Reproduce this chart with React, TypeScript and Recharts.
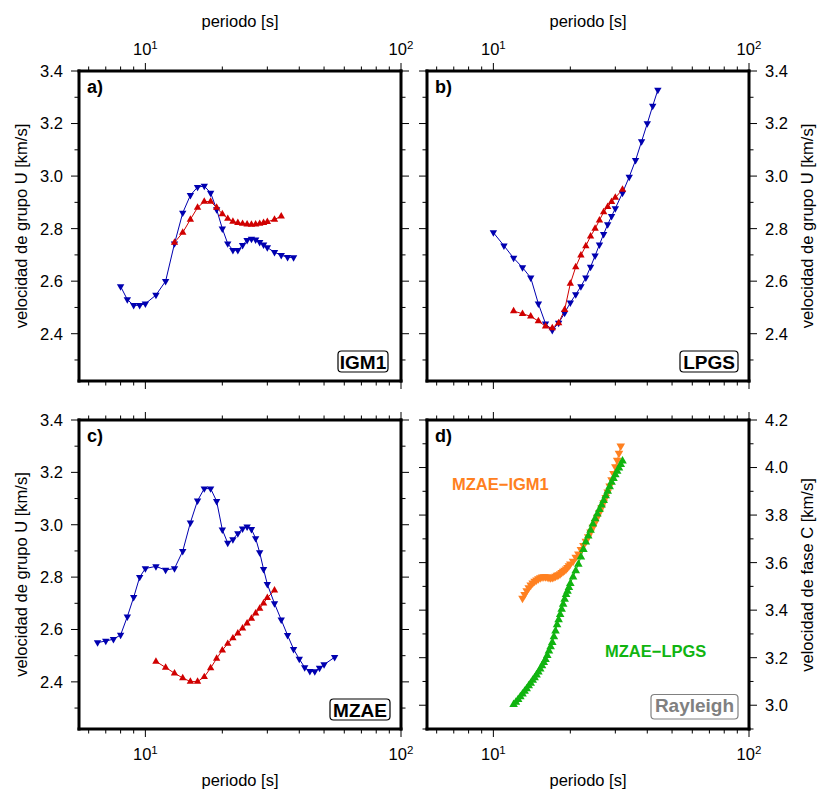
import React from "react";
import { LineChart, Line, XAxis, YAxis } from "recharts";

const W = 817;
const H = 792;
const FONT = '"Liberation Sans", Arial, Helvetica, sans-serif';

const BLUE = "#0000b0";
const RED = "#d00000";
const ORANGE = "#ff8020";
const GREEN = "#10b410";

// group velocity, station IGM1
const igm1BluePeriod = [8, 8.5, 9, 9.5, 10, 11, 12, 13, 14, 15, 16, 17, 18, 19, 20, 21, 22, 23, 24, 25, 26, 27, 28, 29, 30, 32, 34, 36, 38];
const igm1BlueU = [2.58, 2.53, 2.508, 2.508, 2.514, 2.547, 2.6, 2.743, 2.86, 2.927, 2.958, 2.962, 2.936, 2.873, 2.8, 2.743, 2.718, 2.718, 2.737, 2.756, 2.761, 2.758, 2.748, 2.739, 2.728, 2.71, 2.699, 2.691, 2.69];
const igm1RedPeriod = [13, 14, 15, 16, 17, 18, 19, 20, 21, 22, 23, 24, 25, 26, 27, 28, 29, 30, 32, 34];
const igm1RedU = [2.747, 2.785, 2.835, 2.88, 2.903, 2.903, 2.88, 2.856, 2.838, 2.827, 2.822, 2.819, 2.817, 2.816, 2.817, 2.819, 2.822, 2.826, 2.835, 2.847];

// group velocity, station LPGS
const lpgsBluePeriod = [10, 11, 12, 13, 14, 15, 16, 17, 18, 19, 20, 21, 22, 23, 24, 25, 26, 27, 28, 29, 30, 32, 34, 36, 38, 40, 42, 44];
const lpgsBlueU = [2.785, 2.735, 2.688, 2.652, 2.613, 2.514, 2.438, 2.413, 2.441, 2.479, 2.518, 2.549, 2.58, 2.613, 2.654, 2.697, 2.739, 2.779, 2.816, 2.847, 2.877, 2.936, 2.997, 3.06, 3.132, 3.2, 3.267, 3.328];
const lpgsRedPeriod = [12, 13, 14, 15, 16, 17, 18, 19, 20, 21, 22, 23, 24, 25, 26, 27, 28, 29, 30, 32];
const lpgsRedU = [2.486, 2.476, 2.466, 2.448, 2.428, 2.422, 2.441, 2.491, 2.591, 2.654, 2.699, 2.734, 2.771, 2.8, 2.832, 2.863, 2.883, 2.902, 2.918, 2.949];

// group velocity, station MZAE
const mzaeBluePeriod = [6.5, 7, 7.5, 8, 8.5, 9, 9.5, 10, 11, 12, 13, 14, 15, 16, 17, 18, 19, 20, 21, 22, 23, 24, 25, 26, 27, 28, 29, 30, 32, 34, 36, 38, 40, 42, 44, 46, 48, 50, 55];
const mzaeBlueU = [2.55, 2.556, 2.563, 2.579, 2.649, 2.723, 2.8, 2.833, 2.841, 2.827, 2.833, 2.899, 3.008, 3.092, 3.138, 3.138, 3.09, 2.981, 2.93, 2.944, 2.967, 2.985, 2.992, 2.983, 2.948, 2.894, 2.83, 2.773, 2.699, 2.637, 2.578, 2.525, 2.487, 2.455, 2.441, 2.44, 2.453, 2.466, 2.494];
const mzaeRedPeriod = [11, 12, 13, 14, 15, 16, 17, 18, 19, 20, 21, 22, 23, 24, 25, 26, 27, 28, 29, 30, 32];
const mzaeRedU = [2.478, 2.455, 2.433, 2.415, 2.401, 2.401, 2.419, 2.453, 2.489, 2.521, 2.546, 2.567, 2.586, 2.605, 2.624, 2.642, 2.662, 2.68, 2.7, 2.721, 2.75];

// phase velocity between station pairs (Rayleigh)
const mzaeIgm1Period = [
  13, 13.25, 13.5, 13.75, 14, 14.25, 14.5, 14.75, 15, 15.25, 15.5, 15.75, 16, 16.25, 16.5, 16.75,
  17, 17.25, 17.5, 17.75, 18, 18.25, 18.5, 18.75, 19, 19.25, 19.5, 19.75,
  20, 20.5, 21, 21.5, 22, 22.5, 23, 23.5, 24, 24.5, 25, 25.5, 26, 26.5, 27, 27.5, 28, 28.5, 29, 29.5, 30, 30.5, 31, 31.5,
];
const mzaeIgm1C = [
  3.45, 3.466, 3.481, 3.494, 3.505, 3.514, 3.521, 3.527, 3.532, 3.536, 3.539, 3.54, 3.54, 3.539, 3.537, 3.536,
  3.537, 3.539, 3.542, 3.546, 3.549, 3.553, 3.558, 3.563, 3.568, 3.573, 3.579, 3.587,
  3.594, 3.605, 3.622, 3.636, 3.655, 3.672, 3.69, 3.708, 3.728, 3.748, 3.768, 3.79, 3.81, 3.83, 3.852, 3.874, 3.897, 3.922, 3.948, 3.975, 4.003, 4.03, 4.06, 4.09,
];
const mzaeLpgsPeriod = [
  12, 12.25, 12.5, 12.75, 13, 13.25, 13.5, 13.75, 14, 14.25, 14.5, 14.75, 15, 15.25, 15.5, 15.75,
  16, 16.25, 16.5, 16.75, 17, 17.25, 17.5, 17.75, 18, 18.25, 18.5, 18.75, 19, 19.25, 19.5, 19.75,
  20, 20.5, 21, 21.5, 22, 22.5, 23, 23.5, 24, 24.5, 25, 25.5, 26, 26.5, 27, 27.5, 28, 28.5, 29, 29.5, 30, 30.5, 31, 31.5, 32,
];
const mzaeLpgsC = [
  3.003, 3.013, 3.024, 3.036, 3.048, 3.059, 3.07, 3.082, 3.093, 3.105, 3.116, 3.128, 3.14, 3.153, 3.166, 3.18,
  3.193, 3.21, 3.228, 3.246, 3.264, 3.288, 3.313, 3.339, 3.36, 3.382, 3.404, 3.425, 3.446, 3.466, 3.48, 3.496,
  3.512, 3.54, 3.566, 3.593, 3.624, 3.656, 3.687, 3.712, 3.737, 3.763, 3.785, 3.805, 3.824, 3.843, 3.862, 3.882, 3.901, 3.92, 3.938, 3.954, 3.97, 3.985, 3.998, 4.013, 4.028,
];

const periodTicks = [6, 7, 8, 9, 10, 20, 30, 40, 50, 60, 70, 80, 90, 100];
const groupTicks = [2.3, 2.4, 2.5, 2.6, 2.7, 2.8, 2.9, 3.0, 3.1, 3.2, 3.3, 3.4];
const phaseTicks = [2.9, 3.0, 3.1, 3.2, 3.3, 3.4, 3.5, 3.6, 3.7, 3.8, 3.9, 4.0, 4.1, 4.2];

type Pt = { p: number; v: number };
const pairs = (periods: number[], values: number[]): Pt[] => periods.map((p, i) => ({ p, v: values[i] }));

// triangle markers, centred on the centroid
const triangle = (color: string, up: boolean, s = 3.7) => (props: any) => {
  const { cx, cy, index } = props;
  if (cx == null || cy == null) return <g key={`t${index}`} />;
  const d = up
    ? `M${cx - s},${cy + s * 0.6}L${cx + s},${cy + s * 0.6}L${cx},${cy - s * 1.15}Z`
    : `M${cx - s},${cy - s * 0.6}L${cx + s},${cy - s * 0.6}L${cx},${cy + s * 1.15}Z`;
  return <path key={`t${index}`} d={d} fill={color} />;
};

const isDecade = (v: number) => v === 10 || v === 100;
const isEvenTenth = (v: number) => Math.round(v * 10) % 2 === 0;

const periodTick = (side: "top" | "bottom", labels: boolean) => (props: any) => {
  const { x, y, payload } = props;
  const major = isDecade(payload.value);
  const dir = side === "top" ? -1 : 1;
  return (
    <g>
      <line x1={x} x2={x} y1={y} y2={y + dir * (major ? 8 : 4.5)} stroke="#000" strokeWidth={1} />
      {labels && major && (
        <text x={x} y={side === "top" ? y - 16 : y + 31} textAnchor="middle" fontSize={16.5} fontFamily={FONT} fill="#000">
          10
          <tspan dy={-6.5} fontSize={11.5}>
            {payload.value === 10 ? "1" : "2"}
          </tspan>
        </text>
      )}
    </g>
  );
};

const velocityTick = (side: "left" | "right", labels: boolean) => (props: any) => {
  const { x, y, payload } = props;
  const v = payload.value;
  const major = isEvenTenth(v);
  const dir = side === "left" ? -1 : 1;
  return (
    <g>
      <line x1={x} x2={x + dir * (major ? 8 : 4.5)} y1={y} y2={y} stroke="#000" strokeWidth={1} />
      {labels && major && (
        <text
          x={x + dir * 16}
          y={y + 5.9}
          textAnchor={side === "left" ? "end" : "start"}
          fontSize={16.5}
          fontFamily={FONT}
          fill="#000"
        >
          {v.toFixed(1)}
        </text>
      )}
    </g>
  );
};

const frame = { stroke: "#000", strokeWidth: 3, strokeLinecap: "square" as const };

type Series = { data: Pt[]; color: string; up: boolean; size?: number };

interface PanelProps {
  left: number;
  top: number;
  width: number;
  height: number;
  yDomain: [number, number];
  yTicks: number[];
  ySide: "left" | "right";
  xSide: "top" | "bottom";
  series: Series[];
}

const Panel: React.FC<PanelProps> = ({ left, top, width, height, yDomain, yTicks, ySide, xSide, series }) => {
  const AX = 30;
  const AY = 40;
  const margin = {
    left: left - AY,
    top: top - AX,
    right: W - left - width - AY,
    bottom: H - top - height - AX,
  };
  return (
    <div style={{ position: "absolute", left: 0, top: 0 }}>
      <LineChart width={W} height={H} margin={margin}>
        {(["top", "bottom"] as const).map((o) => (
          <XAxis
            key={o}
            xAxisId={o}
            orientation={o}
            type="number"
            dataKey="p"
            scale="log"
            domain={[5.5, 100]}
            allowDataOverflow
            ticks={periodTicks}
            interval={0}
            height={AX}
            tickSize={0}
            tickMargin={0}
            tickLine={false}
            axisLine={frame}
            tick={periodTick(o, o === xSide)}
          />
        ))}
        {(["left", "right"] as const).map((o) => (
          <YAxis
            key={o}
            yAxisId={o}
            orientation={o}
            type="number"
            domain={yDomain}
            allowDataOverflow
            ticks={yTicks}
            interval={0}
            width={AY}
            tickSize={0}
            tickMargin={0}
            tickLine={false}
            axisLine={frame}
            tick={velocityTick(o, o === ySide)}
          />
        ))}
        {series.map((s, i) => (
          <Line
            key={i}
            data={s.data}
            dataKey="v"
            xAxisId="bottom"
            yAxisId="left"
            type="linear"
            stroke={s.color}
            strokeWidth={1}
            dot={triangle(s.color, s.up, s.size)}
            activeDot={false}
            isAnimationActive={false}
          />
        ))}
      </LineChart>
    </div>
  );
};

const StationBox = ({ x, y, w, h, label, color = "#000", baseline }: any) => (
  <g>
    <rect x={x} y={y} width={w} height={h} rx={3.5} fill="#fff" stroke={color} strokeWidth={1.2} />
    <text x={x + w / 2} y={baseline} textAnchor="middle" fontSize={19} fontWeight="bold" fontFamily={FONT} fill={color}>
      {label}
    </text>
  </g>
);

const GROUP_DOMAIN: [number, number] = [2.22, 3.4];
const PHASE_DOMAIN: [number, number] = [2.9, 4.2];

export default function App() {
  const txt = { fontFamily: FONT, fontSize: 16.5, fill: "#000" };
  const bold = { fontFamily: FONT, fontSize: 18, fontWeight: "bold" as const, fill: "#000" };
  return (
    <div style={{ position: "absolute", left: 0, top: 0, width: W, height: H, background: "#fff", fontFamily: FONT }}>
      <Panel
        left={79}
        top={71}
        width={322}
        height={310}
        yDomain={GROUP_DOMAIN}
        yTicks={groupTicks}
        ySide="left"
        xSide="top"
        series={[
          { data: pairs(igm1BluePeriod, igm1BlueU), color: BLUE, up: false },
          { data: pairs(igm1RedPeriod, igm1RedU), color: RED, up: true },
        ]}
      />
      <Panel
        left={427}
        top={71}
        width={322}
        height={310}
        yDomain={GROUP_DOMAIN}
        yTicks={groupTicks}
        ySide="right"
        xSide="top"
        series={[
          { data: pairs(lpgsBluePeriod, lpgsBlueU), color: BLUE, up: false },
          { data: pairs(lpgsRedPeriod, lpgsRedU), color: RED, up: true },
        ]}
      />
      <Panel
        left={79}
        top={420}
        width={322}
        height={309}
        yDomain={GROUP_DOMAIN}
        yTicks={groupTicks}
        ySide="left"
        xSide="bottom"
        series={[
          { data: pairs(mzaeBluePeriod, mzaeBlueU), color: BLUE, up: false },
          { data: pairs(mzaeRedPeriod, mzaeRedU), color: RED, up: true },
        ]}
      />
      <Panel
        left={427}
        top={420}
        width={322}
        height={309}
        yDomain={PHASE_DOMAIN}
        yTicks={phaseTicks}
        ySide="right"
        xSide="bottom"
        series={[
          { data: pairs(mzaeIgm1Period, mzaeIgm1C), color: ORANGE, up: false, size: 4.3 },
          { data: pairs(mzaeLpgsPeriod, mzaeLpgsC), color: GREEN, up: true, size: 4.3 },
        ]}
      />
      <svg width={W} height={H} style={{ position: "absolute", left: 0, top: 0, pointerEvents: "none" }}>
        <text x={240} y={26.5} textAnchor="middle" {...txt}>periodo [s]</text>
        <text x={588} y={26.5} textAnchor="middle" {...txt}>periodo [s]</text>
        <text x={240} y={786} textAnchor="middle" {...txt}>periodo [s]</text>
        <text x={588} y={786} textAnchor="middle" {...txt}>periodo [s]</text>

        <text transform="translate(26.5,226) rotate(-90)" textAnchor="middle" {...txt}>velocidad de grupo U [km/s]</text>
        <text transform="translate(26.5,574.5) rotate(-90)" textAnchor="middle" {...txt}>velocidad de grupo U [km/s]</text>
        <text transform="translate(812.5,226) rotate(-90)" textAnchor="middle" {...txt}>velocidad de grupo U [km/s]</text>
        <text transform="translate(812.5,575) rotate(-90)" textAnchor="middle" {...txt}>velocidad de fase C [km/s]</text>

        <text x={87} y={93} {...bold}>a)</text>
        <text x={435} y={93} {...bold}>b)</text>
        <text x={87} y={441.5} {...bold}>c)</text>
        <text x={435} y={441.5} {...bold}>d)</text>

        <StationBox x={338} y={351} w={50} h={21} baseline={369} label="IGM1" />
        <StationBox x={680} y={351} w={58} h={21} baseline={369} label="LPGS" />
        <StationBox x={330} y={699} w={60} h={21} baseline={716.5} label="MZAE" />
        <StationBox x={651} y={694.5} w={87} h={24.5} baseline={711.5} label="Rayleigh" color="#808080" />

        <text x={452} y={490} fontFamily={FONT} fontSize={16.5} fontWeight="bold" fill={ORANGE}>MZAE−IGM1</text>
        <text x={605} y={656.5} fontFamily={FONT} fontSize={16.5} fontWeight="bold" fill={GREEN}>MZAE−LPGS</text>
      </svg>
    </div>
  );
}
